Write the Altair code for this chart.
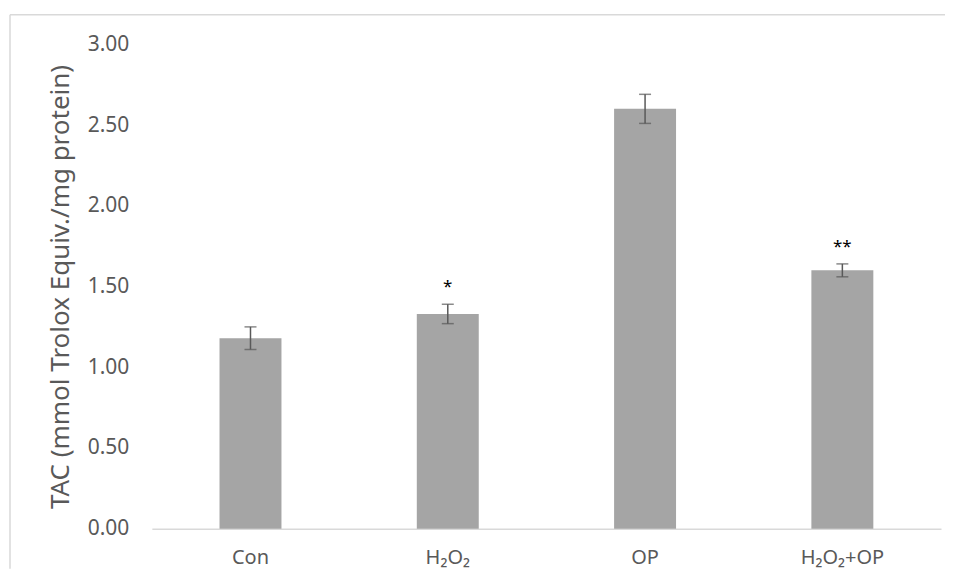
import altair as alt
import pandas as pd

categories = ["Con", "H₂O₂", "OP", "H₂O₂+OP"]
means = [1.18, 1.33, 2.60, 1.60]
errors = [0.07, 0.06, 0.09, 0.04]
stars = ["", "*", "", "**"]
y_ticks = [0, 0.5, 1.0, 1.5, 2.0, 2.5, 3.0]

df = pd.DataFrame({
    "cat": categories,
    "mean": means,
    "lo": [m - e for m, e in zip(means, errors)],
    "hi": [m + e for m, e in zip(means, errors)],
    "star": stars,
})

FONT = "Noto Sans"
W, H = 790, 485

x_enc = alt.X("cat:N", sort=categories,
              scale=alt.Scale(paddingInner=0.686, paddingOuter=0.343),
              axis=alt.Axis(title=None, labelAngle=0, labelFont=FONT, labelFontSize=20,
                            labelColor="#595959", labelPadding=19, ticks=False,
                            domainColor="#D9D9D9", domainWidth=1.5))
y_scale = alt.Scale(domain=[0, 3], nice=False)

base = alt.Chart(df)

bars = base.mark_bar(color="#A5A5A5").encode(
    x=x_enc,
    y=alt.Y("mean:Q", scale=y_scale,
            axis=alt.Axis(title="TAC (mmol Trolox Equiv./mg protein)", values=y_ticks,
                          format=".2f", grid=False, domain=False, ticks=False,
                          labelFont=FONT, labelFontSize=21, labelColor="#595959",
                          labelPadding=23, titleFont=FONT, titleFontSize=26,
                          titleFontWeight="normal", titleColor="#595959",
                          titlePadding=14)),
)

err = base.mark_rule(color="#595959", strokeWidth=1.5).encode(
    x=alt.X("cat:N", sort=categories), y=alt.Y("lo:Q", scale=y_scale), y2="hi:Q"
)
cap_lo = base.mark_tick(color="#595959", thickness=1.5, size=12).encode(
    x=alt.X("cat:N", sort=categories), y=alt.Y("lo:Q", scale=y_scale)
)
cap_hi = base.mark_tick(color="#595959", thickness=1.5, size=12).encode(
    x=alt.X("cat:N", sort=categories), y=alt.Y("hi:Q", scale=y_scale)
)
txt = base.mark_text(font=FONT, fontSize=17, color="#000000", baseline="middle", dy=-17).encode(
    x=alt.X("cat:N", sort=categories), y=alt.Y("hi:Q", scale=y_scale), text="star:N"
)

border_top = alt.Chart(pd.DataFrame({"k": [0]})).mark_rule(color="#D9D9D9", strokeWidth=1.5).encode(
    x=alt.value(-142), x2=alt.value(W + 4), y=alt.value(-29.5)
)
border_left = alt.Chart(pd.DataFrame({"k": [0]})).mark_rule(color="#D9D9D9", strokeWidth=1.5).encode(
    x=alt.value(-142), y=alt.value(-29.5), y2=alt.value(H + 40)
)

chart = alt.layer(bars, err, cap_lo, cap_hi, txt, border_top, border_left).properties(
    width=W, height=H, background="white",
    padding={"left": 1, "top": 5, "right": 0, "bottom": 2}
).configure_view(stroke=None)

chart.save("out.html", embed_options={"renderer": "svg", "actions": False})
